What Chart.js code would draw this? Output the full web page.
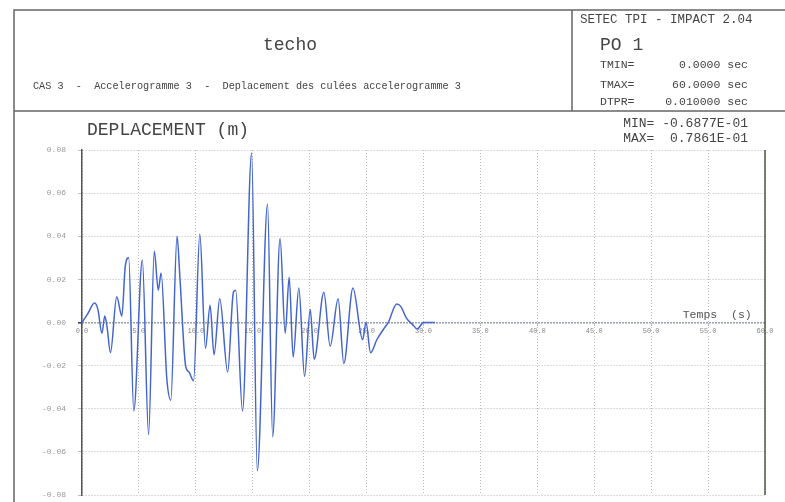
<!DOCTYPE html>
<html>
<head>
<meta charset="utf-8">
<script src="https://cdn.jsdelivr.net/npm/chart.js@4"></script>
<style>
  html, body { margin: 0; padding: 0; background: #fff; }
  #wrap { width: 785px; height: 502px; position: relative; }
</style>
</head>
<body>
<div id="wrap"><canvas id="myChart" width="785" height="502"></canvas></div>
<script>
// time (s) and displacement (m)
const times = [0.0, 0.5, 1.1, 1.4, 1.75, 2.0, 2.2, 2.5, 3.05, 3.5, 3.8, 4.1, 4.55, 5.3, 5.85, 6.35, 6.7, 6.95, 7.45, 7.8,
  8.35, 8.6, 9.1, 9.4, 9.8, 10.35, 10.85, 11.25, 11.6, 12.1, 12.8, 13.3, 13.5, 14.1, 14.9, 15.4, 16.3, 16.75, 17.4, 17.85,
  18.2, 18.55, 19.05, 19.55, 20.05, 20.4, 21.25, 21.8, 22.5, 23.0, 23.8, 24.65, 24.95, 25.35, 25.9, 26.5, 26.9, 27.65,
  28.0, 28.5, 29.05, 29.45, 30.0, 31.0];
const displacement = [0.0, 0.004, 0.009, 0.006, -0.005, 0.003, -0.002, -0.014, 0.012, 0.003, 0.026, 0.030, -0.041, 0.029,
  -0.052, 0.033, 0.015, 0.023, -0.026, -0.036, 0.040, 0.021, -0.020, -0.023, -0.027, 0.041, -0.012, 0.008, -0.015, 0.011,
  -0.023, 0.014, 0.015, -0.041, 0.0786, -0.0688, 0.055, -0.053, 0.039, -0.005, 0.021, -0.016, 0.016, -0.025, 0.006, -0.017,
  0.014, -0.011, 0.011, -0.019, 0.016, -0.008, 0.0, -0.014, -0.008, -0.003, 0.0, 0.0086, 0.0075, 0.002, -0.001, -0.003,
  0.0, 0.0];
const xTicks = [0, 5, 10, 15, 20, 25, 30, 35, 40, 45, 50, 55, 60];
const yTicks = [-0.08, -0.06, -0.04, -0.02, 0.0, 0.02, 0.04, 0.06, 0.08];

const mono = "'Liberation Mono', 'DejaVu Sans Mono', monospace";

const frame = {
  id: "frame",
  afterDraw(chart) {
    const c = chart.ctx;
    const xs = chart.scales.x, ys = chart.scales.y;
    c.save();
    c.strokeStyle = "#666";
    c.lineWidth = 1.5;
    c.beginPath();
    c.moveTo(14, 502); c.lineTo(14, 10); c.lineTo(785, 10);
    c.moveTo(14, 111); c.lineTo(785, 111);
    c.moveTo(572, 10); c.lineTo(572, 111);
    c.stroke();

    // right edge of the plot
    c.strokeStyle = "#4a5a3a";
    c.beginPath();
    c.moveTo(xs.getPixelForValue(60), ys.getPixelForValue(0.08));
    c.lineTo(xs.getPixelForValue(60), ys.getPixelForValue(-0.08));
    c.stroke();

    c.fillStyle = "#444";
    c.textBaseline = "middle";
    c.textAlign = "center";
    c.font = "18px " + mono;
    c.fillText("techo", 290, 45);
    c.textAlign = "left";
    c.font = "10.2px " + mono;
    c.fillText("CAS 3  -  Accelerogramme 3  -  Deplacement des culées accelerogramme 3", 33, 86);
    c.font = "12.5px " + mono;
    c.fillText("SETEC TPI - IMPACT 2.04", 580, 20);
    c.font = "18px " + mono;
    c.fillText("PO 1", 600, 45);
    c.font = "11.5px " + mono;
    c.fillText("TMIN=", 600, 65);
    c.fillText("TMAX=", 600, 85);
    c.fillText("DTPR=", 600, 102);
    c.textAlign = "right";
    c.fillText("0.0000 sec", 748, 65);
    c.fillText("60.0000 sec", 748, 85);
    c.fillText("0.010000 sec", 748, 102);
    c.font = "13px " + mono;
    c.fillText("MIN= -0.6877E-01", 748, 124);
    c.fillText("MAX=  0.7861E-01", 748, 139);
    c.textAlign = "left";
    c.font = "18px " + mono;
    c.fillText("DEPLACEMENT (m)", 87, 130);

    c.font = "11.5px " + mono;
    c.textAlign = "center";
    c.fillStyle = "#555";
    c.fillText("Temps  (s)", xs.getPixelForValue(55.8), ys.getPixelForValue(0) - 8);
    c.restore();
  }
};

new Chart(document.getElementById("myChart").getContext("2d"), {
  type: "line",
  data: {
    datasets: [{
      data: times.map((t, i) => ({ x: t, y: displacement[i] })),
      borderColor: "#4466cc",
      borderWidth: 1.5,
      pointRadius: 0,
      cubicInterpolationMode: "monotone",
      fill: false
    }]
  },
  options: {
    responsive: false,
    animation: false,
    layout: { padding: { left: 0, top: 150, right: 20, bottom: 7 } },
    plugins: { legend: { display: false }, tooltip: { enabled: false }, title: { display: false } },
    scales: {
      x: {
        type: "linear",
        min: 0, max: 60,
        position: { y: 0 },
        afterBuildTicks: (s) => { s.ticks = xTicks.map(v => ({ value: v })); },
        afterFit: (s) => { s.height = 0; },
        ticks: {
          color: "#888",
          font: { family: mono, size: 7 },
          padding: 1,
          maxRotation: 0,
          callback: (v) => v.toFixed(1)
        },
        grid: { color: "#bbb", lineWidth: 1, tickLength: 3 },
        border: { display: false, dash: [1, 2] }
      },
      y: {
        min: -0.08, max: 0.08,
        afterBuildTicks: (s) => { s.ticks = yTicks.map(v => ({ value: v })); },
        afterFit: (s) => { s.width = 82; s.paddingTop = 4; s.paddingBottom = 4; },
        ticks: {
          color: "#999",
          font: { family: mono, size: 8 },
          padding: 12,
          callback: (v) => v.toFixed(2)
        },
        grid: {
          color: (ctx) => (ctx.tick && ctx.tick.value === 0) ? "#334466" : "#bbb",
          lineWidth: (ctx) => (ctx.tick && ctx.tick.value === 0) ? 1.6 : 1,
          tickLength: 4
        },
        border: { display: true, color: "#555", width: 1.5, dash: [1, 2] }
      }
    }
  },
  plugins: [frame]
});
</script>
</body>
</html>
